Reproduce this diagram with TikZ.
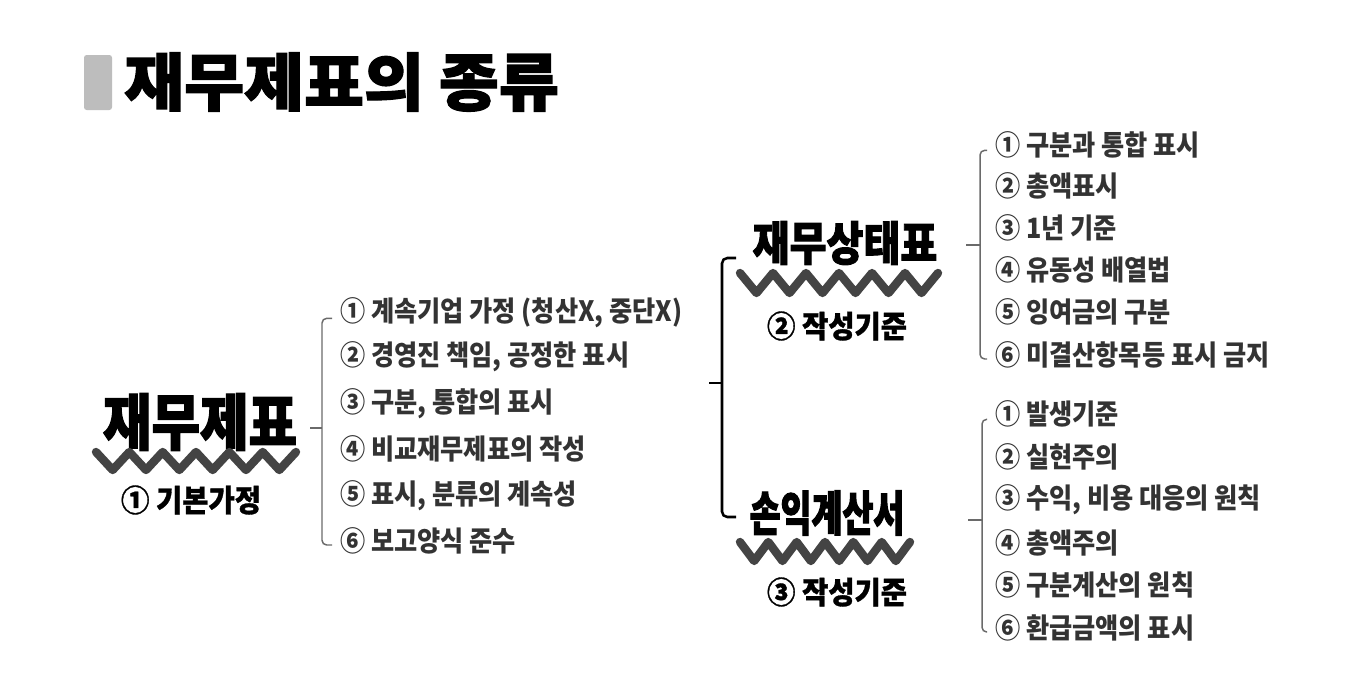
\documentclass[tikz,border=0pt]{standalone}
\usepackage{fontspec}
\newfontfamily\kritem{Noto Sans CJK KR}[FakeStretch=0.9]
\newfontfamily\krsub{Noto Sans CJK KR}[FakeStretch=0.93,FakeBold=1]
\newfontfamily\krtitle{Noto Sans CJK KR}[FakeStretch=1.04,FakeBold=2]
\newfontfamily\krheadA{Noto Sans CJK KR}[FakeStretch=0.86,FakeBold=2]
\newfontfamily\krheadS{Noto Sans CJK KR}[FakeStretch=0.86,FakeBold=2]
\newfontfamily\krheadB{Noto Sans CJK KR}[FakeStretch=0.7,FakeBold=2]
\definecolor{itemgray}{HTML}{333333}
\definecolor{brgray}{HTML}{6A6A6A}
\definecolor{ziggray}{HTML}{444444}
\definecolor{bargray}{HTML}{BDBDBD}
\newcommand\zigline[5]{% x0, x1, ytop, ybot, n
  \draw[zig] (#1,#3) \foreach \i in {1,...,#5}{ -- ({#1+(\i-0.5)*(#2-#1)/#5},#4) -- ({#1+\i*(#2-#1)/#5},#3) };}
\begin{document}
\begin{tikzpicture}[x=0.75pt,y=-0.75pt,
 item/.style={anchor=west, inner sep=0pt, text=itemgray, font=\kritem\bfseries\fontsize{21}{21}\selectfont},
 sub/.style={inner sep=0pt, text=black, font=\krsub\bfseries\fontsize{23}{23}\selectfont},
 headA/.style={inner sep=0pt, text=black, font=\krheadA\bfseries\fontsize{46}{46}\selectfont},
 headS/.style={inner sep=0pt, text=black, font=\krheadS\bfseries\fontsize{35}{35}\selectfont},
 headB/.style={inner sep=0pt, text=black, font=\krheadB\bfseries\fontsize{36}{36}\selectfont},
 brk/.style={draw=brgray, line width=1.1pt, rounded corners=3.5pt},
 bigbrk/.style={draw=black, line width=1.9pt, rounded corners=4pt},
 zig/.style={draw=ziggray, line width=6.3pt, line cap=round, line join=round}]
\useasboundingbox[fill=white] (0,0) rectangle (1351,675);

% title
\fill[bargray, rounded corners=2pt] (84,55) rectangle (112,110);
\node[anchor=west, inner sep=0pt, font=\krtitle\bfseries\fontsize{47}{47}\selectfont] (title) at (124,82) {재무제표의 종류};

% main heading
\node[headA] (fs) at (200,422) {재무제표};
\zigline{96}{296}{452}{470}{6}
\node[sub] (basic) at (191,500) {① 기본가정};

% left list
\node[item] (a1) at (340,313) {① 계속기업 가정 (청산X, 중단X)};
\node[item] (a2) at (340,357) {② 경영진 책임, 공정한 표시};
\node[item] (a3) at (340,404) {③ 구분, 통합의 표시};
\node[item] (a4) at (340,449) {④ 비교재무제표의 작성};
\node[item] (a5) at (340,496) {⑤ 표시, 분류의 계속성};
\node[item] (a6) at (340,541) {⑥ 보고양식 준수};
\coordinate (ba) at (322,428);
\coordinate (ta) at (310,428);
\draw[brk] ([xshift=-6pt,yshift=-4pt]a1.west) -- ([yshift=-4pt]a1.west -| ba) -- ([yshift=-3pt]a6.west -| ba) -- ([xshift=-6pt,yshift=-3pt]a6.west);
\draw[brk] (ta) -- (ba);

% second-level headings
\node[headS] (sfp) at (845,243) {재무상태표};
\zigline{740}{938}{273}{293}{6}
\node[sub] (crit2) at (837,326) {② 작성기준};

\node[headB] (is) at (827,513) {손익계산서};
\zigline{740}{910}{542}{561}{6}
\node[sub] (crit3) at (837,592) {③ 작성기준};

% big bracket
\coordinate (bb) at (722,383);
\coordinate (tb) at (709,383);
\coordinate (sfpL) at (736,258);
\coordinate (isL) at (736,517);
\draw[bigbrk] (sfpL) -- (sfpL -| bb) -- (isL -| bb) -- (isL);
\draw[bigbrk] (tb) -- (bb);

% balance sheet list
\node[item] (b1) at (995,145) {① 구분과 통합 표시};
\node[item] (b2) at (995,186) {② 총액표시};
\node[item] (b3) at (995,228) {③ 1년 기준};
\node[item] (b4) at (995,270) {④ 유동성 배열법};
\node[item] (b5) at (995,312) {⑤ 잉여금의 구분};
\node[item] (b6) at (995,355) {⑥ 미결산항목등 표시 금지};
\coordinate (bs) at (980,245);
\coordinate (ts) at (966,245);
\draw[brk] ([xshift=-6pt,yshift=-4pt]b1.west) -- ([yshift=-4pt]b1.west -| bs) -- ([yshift=-3pt]b6.west -| bs) -- ([xshift=-6pt,yshift=-3pt]b6.west);
\draw[brk] (ts) -- (bs);

% income statement list
\node[item] (c1) at (995,414) {① 발생기준};
\node[item] (c2) at (995,457) {② 실현주의};
\node[item] (c3) at (995,500) {③ 수익, 비용 대응의 원칙};
\node[item] (c4) at (995,543) {④ 총액주의};
\node[item] (c5) at (995,585) {⑤ 구분계산의 원칙};
\node[item] (c6) at (995,628) {⑥ 환급금액의 표시};
\coordinate (bi) at (982,520);
\coordinate (ti) at (968,520);
\draw[brk] ([xshift=-6pt,yshift=-4pt]c1.west) -- ([yshift=-4pt]c1.west -| bi) -- ([yshift=-3pt]c6.west -| bi) -- ([xshift=-6pt,yshift=-3pt]c6.west);
\draw[brk] (ti) -- (bi);
\end{tikzpicture}
\end{document}
